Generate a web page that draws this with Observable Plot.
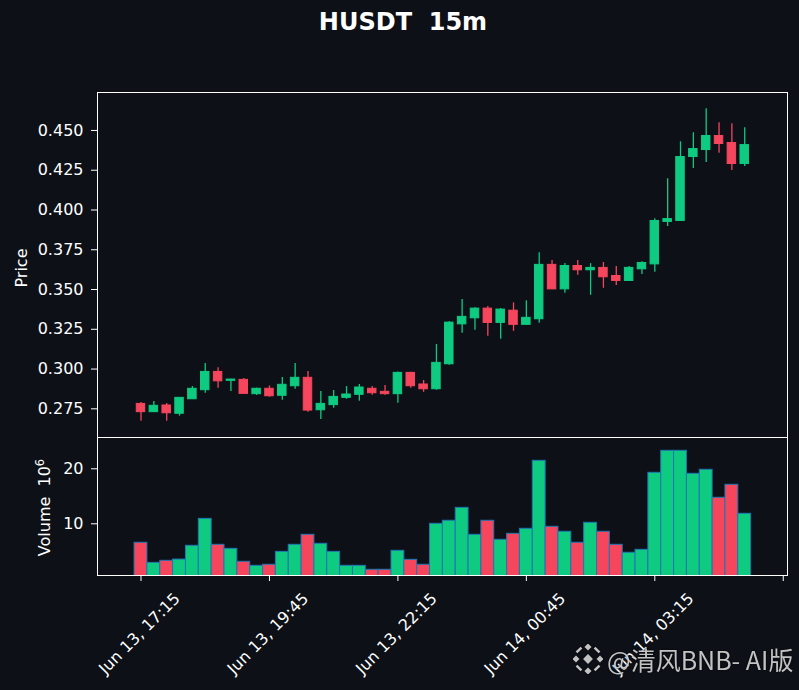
<!DOCTYPE html>
<html><head><meta charset="utf-8">
<script src="https://cdn.jsdelivr.net/npm/d3@7"></script>
<script src="https://cdn.jsdelivr.net/npm/@observablehq/plot@0.6"></script>
<style>
html,body{margin:0;padding:0;background:#0d1017;}
#wrap{position:relative;width:799px;height:690px;background:#0d1017;overflow:hidden;font-family:"DejaVu Sans";}
#wrap svg.plotsvg{position:absolute;left:0;top:0;}
#wrap svg text{white-space:pre;}
#title{position:absolute;left:0;width:806px;top:9px;text-align:center;color:#fff;font-weight:bold;font-size:24px;font-family:"DejaVu Sans";white-space:pre;line-height:1.164;}
#wm{position:absolute;left:573px;top:644px;display:flex;align-items:center;gap:4px;color:#d2d2d2;font-family:"Noto Sans CJK SC";font-size:25px;line-height:1;text-shadow:0 0 2px #000;opacity:0.92;}
</style></head><body>
<div id="wrap"><div id="title">HUSDT  15m</div></div>
<script>
// ---- data ----
const times = [
  "Jun 13, 17:15","Jun 13, 17:30","Jun 13, 17:45","Jun 13, 18:00","Jun 13, 18:15","Jun 13, 18:30","Jun 13, 18:45","Jun 13, 19:00",
  "Jun 13, 19:15","Jun 13, 19:30","Jun 13, 19:45","Jun 13, 20:00","Jun 13, 20:15","Jun 13, 20:30","Jun 13, 20:45","Jun 13, 21:00",
  "Jun 13, 21:15","Jun 13, 21:30","Jun 13, 21:45","Jun 13, 22:00","Jun 13, 22:15","Jun 13, 22:30","Jun 13, 22:45","Jun 13, 23:00",
  "Jun 13, 23:15","Jun 13, 23:30","Jun 13, 23:45","Jun 14, 00:00","Jun 14, 00:15","Jun 14, 00:30","Jun 14, 00:45","Jun 14, 01:00",
  "Jun 14, 01:15","Jun 14, 01:30","Jun 14, 01:45","Jun 14, 02:00","Jun 14, 02:15","Jun 14, 02:30","Jun 14, 02:45","Jun 14, 03:00",
  "Jun 14, 03:15","Jun 14, 03:30","Jun 14, 03:45","Jun 14, 04:00","Jun 14, 04:15","Jun 14, 04:30","Jun 14, 04:45","Jun 14, 05:00"
];
const opens = [
  0.2781,0.2729,0.2771,0.2719,0.2810,0.2867,0.2982,0.2926,
  0.2932,0.2842,0.2876,0.2832,0.2892,0.2945,0.2741,0.2773,
  0.2819,0.2838,0.2876,0.2857,0.2842,0.2976,0.2903,0.2873,
  0.3030,0.3281,0.3319,0.3380,0.3290,0.3367,0.3278,0.3313,
  0.3655,0.3501,0.3648,0.3621,0.3636,0.3585,0.3554,0.3627,
  0.3658,0.3925,0.3931,0.4333,0.4377,0.4465,0.4421,0.4289
];
const highs = [
  0.2790,0.2796,0.2783,0.2819,0.2890,0.3035,0.3009,0.2936,
  0.2940,0.2880,0.2894,0.2947,0.3035,0.2984,0.2859,0.2865,
  0.2890,0.2903,0.2890,0.2896,0.2982,0.2980,0.2928,0.3154,
  0.3298,0.3437,0.3386,0.3393,0.3380,0.3416,0.3429,0.3732,
  0.3682,0.3663,0.3682,0.3663,0.3670,0.3644,0.3644,0.3675,
  0.3945,0.4197,0.4429,0.4486,0.4636,0.4548,0.4542,0.4517
];
const lows = [
  0.2672,0.2727,0.2672,0.2704,0.2810,0.2848,0.2879,0.2859,
  0.2844,0.2834,0.2823,0.2804,0.2873,0.2729,0.2683,0.2754,
  0.2810,0.2798,0.2835,0.2835,0.2785,0.2879,0.2854,0.2867,
  0.3024,0.3225,0.3244,0.3206,0.3187,0.3237,0.3278,0.3288,
  0.3501,0.3476,0.3589,0.3464,0.3508,0.3526,0.3554,0.3595,
  0.3608,0.3897,0.3931,0.4261,0.4299,0.4356,0.4249,0.4274
];
const closes = [
  0.2729,0.2769,0.2722,0.2819,0.2876,0.2982,0.2923,0.2934,
  0.2844,0.2876,0.2829,0.2901,0.2945,0.2739,0.2781,0.2825,
  0.2840,0.2884,0.2848,0.2842,0.2976,0.2892,0.2873,0.3039,
  0.3292,0.3328,0.3380,0.3290,0.3374,0.3278,0.3322,0.3655,
  0.3501,0.3648,0.3621,0.3636,0.3577,0.3554,0.3636,0.3667,
  0.3931,0.3943,0.4333,0.4383,0.4465,0.4415,0.4289,0.4408
];
const volumes = [ // millions
  6.55,2.90,3.27,3.50,6.00,10.90,6.18,5.45,
  3.09,2.36,2.55,4.90,6.18,8.00,6.36,4.90,
  2.36,2.36,1.64,1.64,5.09,3.45,2.55,10.00,
  10.55,12.90,8.00,10.55,7.09,8.18,9.09,21.45,
  9.45,8.55,6.55,10.18,8.55,6.18,4.73,5.27,
  19.27,23.27,23.27,19.09,19.82,14.73,17.09,11.82
];
const priceTicks = [0.275,0.300,0.325,0.350,0.375,0.400,0.425,0.450];
const volumeTicks = [10,20];
const xTickIdx = [0,10,20,30,40,50];
const xTickLabels = ["Jun 13, 17:15","Jun 13, 19:45","Jun 13, 22:15","Jun 14, 00:45","Jun 14, 03:15",""];

// ---- build ----
const GREEN = "#0ecb81", RED = "#f6465d";
const rows = times.map((t, i) => ({i, t, o: opens[i], h: highs[i], l: lows[i], c: closes[i], v: volumes[i]}));
const col = d => (d.c >= d.o ? GREEN : RED);
const xTicks = xTickIdx.map((x, k) => ({x, label: xTickLabels[k]})).filter(d => d.label);

const base = {
  width: 799, height: 690, marginLeft: 97, marginRight: 12,
  color: {type: "identity"},
  style: {background: "transparent", color: "white", fontFamily: "DejaVu Sans", fontSize: "16px", overflow: "visible"}
};

const pricePlot = Plot.plot({
  ...base,
  marginTop: 92, marginBottom: 253,
  x: {type: "linear", domain: [-3.387, 50.33], axis: null},
  y: {domain: [0.25697, 0.47387], axis: null},
  marks: [
    Plot.ruleX(rows, {x: "i", y1: "l", y2: "h", stroke: col, strokeWidth: 1.3}),
    Plot.rect(rows, {x1: d => d.i - 0.33, x2: d => d.i + 0.33, y1: "o", y2: "c", fill: col, stroke: col, strokeWidth: 1}),
    Plot.frame({stroke: "white", strokeWidth: 1}),
    Plot.axisY({ticks: priceTicks, tickFormat: d3.format(".3f"), tickSize: 6, tickPadding: 8, fontSize: 16, label: null}),
    Plot.text(["Price"], {frameAnchor: "left", textAnchor: "middle", dx: -76, dy: 3, rotate: -90, fontSize: 16, fill: "white"})
  ]
});

const volPlot = Plot.plot({
  ...base,
  marginTop: 437, marginBottom: 115,
  x: {type: "linear", domain: [-3.387, 50.33]},
  y: {domain: [0.6, 25.69]},
  marks: [
    Plot.rect(rows, {x1: d => d.i - 0.5, x2: d => d.i + 0.5, y1: 0, y2: "v", fill: col, stroke: "#1f77b4", strokeWidth: 1, clip: true}),
    Plot.frame({stroke: "white", strokeWidth: 1}),
    Plot.axisY({ticks: volumeTicks, tickSize: 6, tickPadding: 8, fontSize: 16, label: null}),
    Plot.axisX({ticks: xTickIdx, tickSize: 6, tickFormat: () => "", label: null}),
    Plot.text(xTicks, {x: "x", text: "label", frameAnchor: "bottom", rotate: -45, textAnchor: "end", lineAnchor: "bottom", dx: 40, dy: 24, fontSize: 16, fill: "white"}),
    Plot.text(["Volume  10"], {frameAnchor: "left", textAnchor: "middle", dx: -53, dy: 1, rotate: -90, fontSize: 16, fill: "white"})
  ]
});

// superscript exponent on the volume label
for (const t of volPlot.querySelectorAll("text")) {
  if (t.textContent === "Volume  10") {
    const sup = document.createElementNS("http://www.w3.org/2000/svg", "tspan");
    sup.setAttribute("dy", "-0.45em");
    sup.setAttribute("font-size", "11.5px");
    sup.textContent = "6";
    t.appendChild(sup);
  }
}

const wrap = document.getElementById("wrap");
pricePlot.classList.add("plotsvg");
volPlot.classList.add("plotsvg");
wrap.appendChild(pricePlot);
wrap.appendChild(volPlot);

// watermark
const wm = document.createElement("div");
wm.id = "wm";
wm.innerHTML = `<svg width="30" height="30" viewBox="0 0 30 30" style="filter:drop-shadow(0 0 1px #000)">
  <g fill="#d2d2d2" transform="rotate(45 15 15)">
    <rect x="11.5" y="11.5" width="7" height="7"/>
    <rect x="4" y="4" width="5" height="5"/><rect x="21" y="4" width="5" height="5"/>
    <rect x="4" y="21" width="5" height="5"/><rect x="21" y="21" width="5" height="5"/>
    <rect x="11.5" y="1" width="7" height="2.5"/><rect x="11.5" y="26.5" width="7" height="2.5"/>
    <rect x="1" y="11.5" width="2.5" height="7"/><rect x="26.5" y="11.5" width="2.5" height="7"/>
  </g></svg><span>@清风BNB- AI版</span>`;
wrap.appendChild(wm);
</script>
</body></html>
